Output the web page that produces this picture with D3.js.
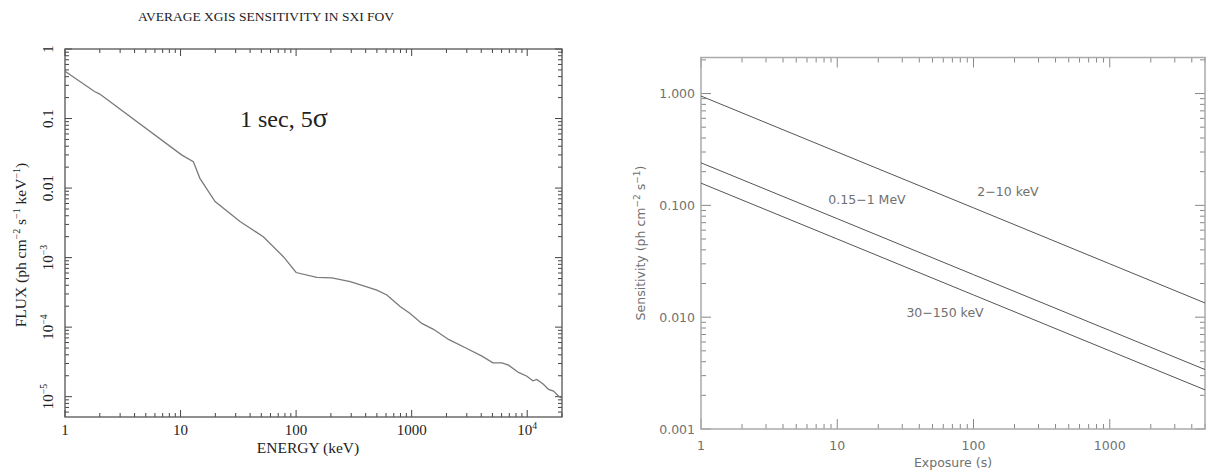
<!DOCTYPE html>
<html><head><meta charset="utf-8">
<script src="https://cdn.jsdelivr.net/npm/d3@7"></script>
<style>body{margin:0;background:#fff}svg{display:block}</style>
</head><body>
<svg id="c" width="1206" height="471"></svg>
<script>
// ---- Left panel data ----
const energy = [1, 1.8, 2, 10.2, 12.9, 14.7, 19.9, 32.7, 52, 77.6, 100, 151, 204, 294, 409, 500, 610, 795, 970, 1224, 1545, 2085, 3006, 4055, 5050, 6040, 6890, 8410, 9940, 11200, 12100, 13800, 15300, 16900, 19000, 20000];
const flux = [0.48, 0.245, 0.225, 0.030, 0.024, 0.0138, 0.0064, 0.0033, 0.0020, 0.00103, 0.00061, 0.00052, 0.00051, 0.00045, 0.00038, 0.00034, 0.00029, 0.000198, 0.000157, 0.000113, 0.000093, 0.0000665, 0.0000493, 0.0000383, 0.0000307, 0.0000307, 0.0000284, 0.0000223, 0.0000197, 0.0000169, 0.0000177, 0.0000151, 0.0000127, 0.000012, 0.0000099, 0.0000095];
const leftXTicks = [1, 10, 100, 1000, 10000];
const leftXLabels = ["1", "10", "100", "1000", "10^4"];
const leftYTicks = [1, 0.1, 0.01, 0.001, 0.0001, 0.00001];
const leftYLabels = ["1", "0.1", "0.01", "10^-3", "10^-4", "10^-5"];

// ---- Right panel data ----
const exposure = [1, 10, 100, 1000, 5000];
const sens210 = [0.95, 0.30, 0.095, 0.030, 0.0134];
const sensMeV = [0.24, 0.076, 0.024, 0.0076, 0.0034];
const sens30150 = [0.158, 0.050, 0.0158, 0.0050, 0.00224];
const seriesNames = ["2\u221210 keV", "0.15\u22121 MeV", "30\u2212150 keV"];
const rightXTicks = [1, 10, 100, 1000];
const rightXLabels = ["1", "10", "100", "1000"];
const rightYTicks = [0.001, 0.01, 0.1, 1];
const rightYLabels = ["0.001", "0.010", "0.100", "1.000"];

const svg = d3.select("#c");

function supText(sel, label, baseSize) {
  const parts = label.split("^");
  sel.text(null);
  sel.append("tspan").text(parts[0]);
  if (parts.length > 1) {
    sel.append("tspan").attr("dy", -baseSize * 0.4).attr("font-size", baseSize * 0.65)
      .text(parts[1].replace("-", "\u2212"));
  }
}

function isMajor(v) { const l = Math.log10(v); return Math.abs(l - Math.round(l)) < 1e-6; }

// ================= LEFT PANEL =================
(function () {
  const L = 65, R = 562, T = 49, B = 417;
  const x = d3.scaleLog().domain([1, 20000]).range([L, R]);
  const y = d3.scaleLog().domain([5.1e-6, 1]).range([B, T]);
  const g = svg.append("g");
  const ink = "#444";
  const serif = "'Liberation Serif','Times New Roman',serif";

  g.append("text").attr("x", 266).attr("y", 21).attr("text-anchor", "middle")
    .attr("font-family", serif).attr("font-size", 13.5).attr("fill", "#222")
    .text("AVERAGE XGIS SENSITIVITY IN SXI FOV");

  // ticks
  const xt = x.ticks();
  xt.forEach(v => {
    const len = isMajor(v) ? 7 : 4;
    const px = x(v);
    g.append("line").attr("x1", px).attr("x2", px).attr("y1", B).attr("y2", B - len).attr("stroke", ink).attr("stroke-width", 1);
    g.append("line").attr("x1", px).attr("x2", px).attr("y1", T).attr("y2", T + len).attr("stroke", ink).attr("stroke-width", 1);
  });
  const yt = y.ticks();
  yt.forEach(v => {
    const len = isMajor(v) ? 7 : 4;
    const py = y(v);
    g.append("line").attr("x1", L).attr("x2", L + len).attr("y1", py).attr("y2", py).attr("stroke", ink).attr("stroke-width", 1);
    g.append("line").attr("x1", R).attr("x2", R - len).attr("y1", py).attr("y2", py).attr("stroke", ink).attr("stroke-width", 1);
  });

  g.append("rect").attr("x", L).attr("y", T).attr("width", R - L).attr("height", B - T)
    .attr("fill", "none").attr("stroke", "#555").attr("stroke-width", 1.3);

  // curve
  const line = d3.line().x((d, i) => x(energy[i])).y((d, i) => y(flux[i]));
  g.append("path").datum(flux).attr("d", line).attr("fill", "none")
    .attr("stroke", "#7a7a7a").attr("stroke-width", 1.3);

  // tick labels
  leftXTicks.forEach((v, i) => {
    const t = g.append("text").attr("x", x(v)).attr("y", 435).attr("text-anchor", "middle")
      .attr("font-family", serif).attr("font-size", 15).attr("fill", "#222");
    supText(t, leftXLabels[i], 15);
  });
  leftYTicks.forEach((v, i) => {
    const t = g.append("text").attr("transform", `translate(53,${y(v)}) rotate(-90)`)
      .attr("text-anchor", "middle").attr("font-family", serif).attr("font-size", 15).attr("fill", "#222");
    supText(t, leftYLabels[i], 15);
  });

  // axis titles
  g.append("text").attr("x", 308).attr("y", 453).attr("text-anchor", "middle")
    .attr("font-family", serif).attr("font-size", 15.5).attr("fill", "#222").text("ENERGY (keV)");
  const yl = g.append("text").attr("transform", "translate(26,245) rotate(-90)").attr("text-anchor", "middle")
    .attr("font-family", serif).attr("font-size", 15.5).attr("fill", "#222");
  yl.append("tspan").text("FLUX  (ph cm");
  yl.append("tspan").attr("dy", -6).attr("font-size", 10).text("\u22122");
  yl.append("tspan").attr("dy", 6).text(" s");
  yl.append("tspan").attr("dy", -6).attr("font-size", 10).text("\u22121");
  yl.append("tspan").attr("dy", 6).text(" keV");
  yl.append("tspan").attr("dy", -6).attr("font-size", 10).text("\u22121");
  yl.append("tspan").attr("dy", 6).text(")");

  const lab = g.append("text").attr("x", 240).attr("y", 127).attr("font-family", serif)
    .attr("font-size", 24).attr("fill", "#222");
  lab.append("tspan").text("1 sec, 5");
  lab.append("tspan").attr("font-size", 28).text("\u03c3");
})();

// ================= RIGHT PANEL =================
(function () {
  const L = 701, R = 1205, T = 57.5, B = 429;
  const x = d3.scaleLog().domain([1, 5000]).range([L, R]);
  const y = d3.scaleLog().domain([0.001, 2.1]).range([B, T]);
  const g = svg.append("g");
  const sans = "'DejaVu Sans','Liberation Sans',sans-serif";
  const tc = "#707070";
  const tickc = "#888";

  x.ticks().forEach(v => {
    const len = isMajor(v) ? 10 : 5;
    const px = x(v);
    g.append("line").attr("x1", px).attr("x2", px).attr("y1", B).attr("y2", B - len).attr("stroke", tickc).attr("stroke-width", 1);
    g.append("line").attr("x1", px).attr("x2", px).attr("y1", T).attr("y2", T + len).attr("stroke", tickc).attr("stroke-width", 1);
  });
  y.ticks().forEach(v => {
    const len = isMajor(v) ? 10 : 5;
    const py = y(v);
    g.append("line").attr("x1", L).attr("x2", L + len).attr("y1", py).attr("y2", py).attr("stroke", tickc).attr("stroke-width", 1);
    g.append("line").attr("x1", R).attr("x2", R - len).attr("y1", py).attr("y2", py).attr("stroke", tickc).attr("stroke-width", 1);
  });
  g.append("rect").attr("x", L).attr("y", T).attr("width", R - L).attr("height", B - T)
    .attr("fill", "none").attr("stroke", "#aaa").attr("stroke-width", 1.5);

  const series = [sens210, sensMeV, sens30150];
  const line = d3.line().x((d, i) => x(exposure[i])).y(d => y(d));
  series.forEach(s => {
    g.append("path").datum(s).attr("d", line).attr("fill", "none")
      .attr("stroke", "#555").attr("stroke-width", 1);
  });

  // series labels
  const labelPos = [[1008, 196], [867, 204], [945, 317]];
  seriesNames.forEach((n, i) => {
    g.append("text").attr("x", labelPos[i][0]).attr("y", labelPos[i][1]).attr("text-anchor", "middle")
      .attr("font-family", sans).attr("font-size", 12.5).attr("fill", tc).text(n);
  });

  rightXTicks.forEach((v, i) => {
    g.append("text").attr("x", x(v)).attr("y", 450).attr("text-anchor", "middle")
      .attr("font-family", sans).attr("font-size", 12.5).attr("fill", tc).text(rightXLabels[i]);
  });
  rightYTicks.forEach((v, i) => {
    g.append("text").attr("x", 695).attr("y", y(v) + 4.5).attr("text-anchor", "end")
      .attr("font-family", sans).attr("font-size", 12.5).attr("fill", tc).text(rightYLabels[i]);
  });

  g.append("text").attr("x", 953).attr("y", 467).attr("text-anchor", "middle")
    .attr("font-family", sans).attr("font-size", 12.5).attr("fill", tc).text("Exposure (s)");
  const yl = g.append("text").attr("transform", "translate(645,243) rotate(-90)").attr("text-anchor", "middle")
    .attr("font-family", sans).attr("font-size", 12.5).attr("fill", tc);
  yl.append("tspan").text("Sensitivity (ph cm");
  yl.append("tspan").attr("dy", -5).attr("font-size", 9).text("\u22122");
  yl.append("tspan").attr("dy", 5).text(" s");
  yl.append("tspan").attr("dy", -5).attr("font-size", 9).text("\u22121");
  yl.append("tspan").attr("dy", 5).text(")");
})();
</script>
</body></html>
